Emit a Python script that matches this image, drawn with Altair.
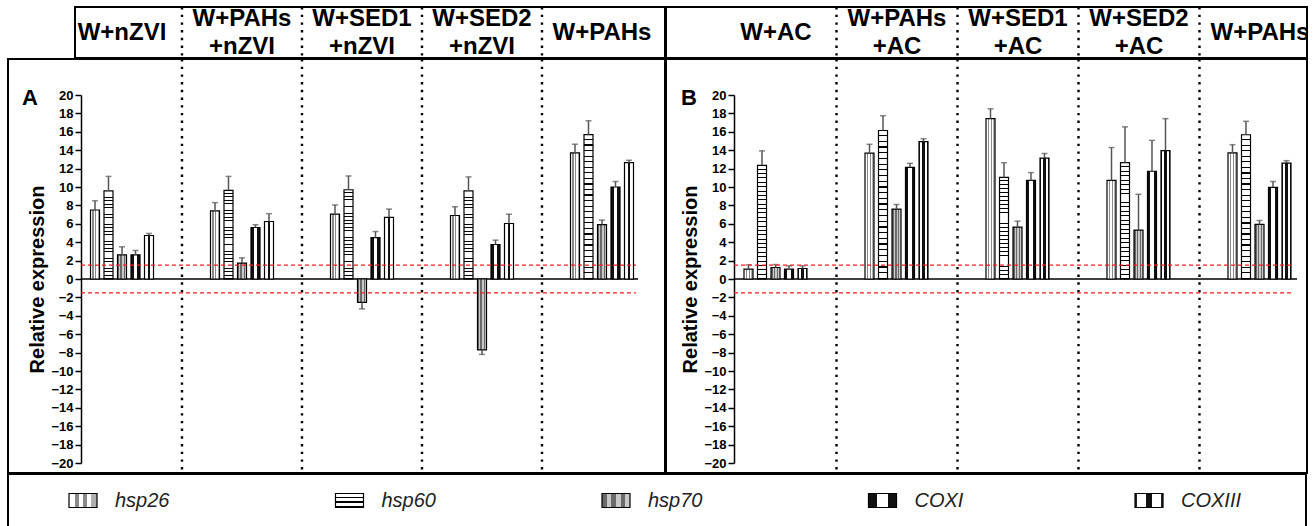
import altair as alt
import pandas as pd

# ---------------- data ----------------
GENES = ["hsp26", "hsp60", "hsp70", "COXI", "COXIII"]
GROUPS_A = ["W+nZVI", "W+PAHs +nZVI", "W+SED1 +nZVI", "W+SED2 +nZVI", "W+PAHs"]
GROUPS_B = ["W+AC", "W+PAHs +AC", "W+SED1 +AC", "W+SED2 +AC", "W+PAHs"]

A_HSP26 = [7.5, 7.4, 7.05, 6.9, 13.7]
A_HSP26_ERR = [8.5, 8.3, 8.05, 7.85, 14.65]
A_HSP60 = [9.57, 9.64, 9.7, 9.57, 15.7]
A_HSP60_ERR = [11.15, 11.15, 11.2, 11.1, 17.2]
A_HSP70 = [2.63, 1.73, -2.53, -7.7, 5.92]
A_HSP70_ERR = [3.5, 2.3, -3.25, -8.2, 6.4]
A_COXI = [2.63, 5.6, 4.5, 3.75, 10.0]
A_COXI_ERR = [3.1, 5.9, 5.16, 4.22, 10.6]
A_COXIII = [4.73, 6.25, 6.7, 6.03, 12.64]
A_COXIII_ERR = [4.95, 7.1, 7.6, 7.04, 12.9]

B_HSP26 = [1.07, 13.68, 17.43, 10.71, 13.71]
B_HSP26_ERR = [1.54, 14.64, 18.5, 14.29, 14.6]
B_HSP60 = [12.36, 16.14, 11.04, 12.64, 15.68]
B_HSP60_ERR = [13.93, 17.75, 12.64, 16.54, 17.14]
B_HSP70 = [1.25, 7.6, 5.64, 5.32, 5.93]
B_HSP70_ERR = [1.57, 8.1, 6.29, 9.21, 6.36]
B_COXI = [1.07, 12.14, 10.71, 11.71, 9.96]
B_COXI_ERR = [1.43, 12.57, 11.57, 15.07, 10.6]
B_COXIII = [1.14, 14.93, 13.14, 13.96, 12.6]
B_COXIII_ERR = [1.43, 15.25, 13.64, 17.43, 12.86]

Y_TICKS = list(range(-20, 21, 2))
THRESHOLDS = [1.5, -1.5]

A_SERIES = [(A_HSP26, A_HSP26_ERR), (A_HSP60, A_HSP60_ERR), (A_HSP70, A_HSP70_ERR),
            (A_COXI, A_COXI_ERR), (A_COXIII, A_COXIII_ERR)]
B_SERIES = [(B_HSP26, B_HSP26_ERR), (B_HSP60, B_HSP60_ERR), (B_HSP70, B_HSP70_ERR),
            (B_COXI, B_COXI_ERR), (B_COXIII, B_COXIII_ERR)]


def build_df(groups, series):
    rows = []
    for gene, (vals, errs) in zip(GENES, series):
        for g, v, e in zip(groups, vals, errs):
            rows.append({"group": g, "gene": gene, "value": v, "err": e})
    return pd.DataFrame(rows)


# ---------------- styles (texture-like fills) ----------------
def stripes(bands, horizontal=True):
    stops = []
    start = 0.0
    for end, color in bands:
        stops.append({"offset": start, "color": color})
        stops.append({"offset": end, "color": color})
        start = end
    g = {"gradient": "linear", "stops": stops}
    if horizontal:
        g.update(x1=0, x2=1, y1=0, y2=0)
    else:
        g.update(x1=0, x2=0, y1=0, y2=1)
    return g


def lines(n, line_frac=0.22, bg="white", fg="black"):
    bands = []
    for i in range(n):
        bands.append(((i + 1 - line_frac) / n, bg))
        bands.append(((i + 1) / n, fg))
    return stripes(bands, horizontal=False)


FILLS = {
    "hsp26": stripes([(0.2, "white"), (0.35, "#8a8a8a"), (0.5, "white"), (0.65, "#8a8a8a"),
                      (0.8, "white"), (1.0, "#b0b0b0")]),
    "hsp60": lines(26),
    "hsp70": stripes([(0.17, "#6a6a6a"), (0.33, "#c8c8c8"), (0.5, "#6a6a6a"), (0.67, "#c8c8c8"),
                      (0.83, "#6a6a6a"), (1.0, "#c8c8c8")]),
    "COXI": stripes([(0.3, "#111111"), (0.7, "white"), (1.0, "#111111")]),
    "COXIII": stripes([(0.08, "#222222"), (0.38, "white"), (0.62, "#111111"), (0.92, "white"),
                       (1.0, "#222222")]),
}
LEGEND_FILLS = dict(FILLS)
LEGEND_FILLS["hsp60"] = lines(3, line_frac=0.3)

FONT = "Liberation Sans"
DOTS = dict(color="black", strokeWidth=2.4, strokeDash=[2.4, 5.3], clip=True)


def panel(groups, series, x_range, off_range, axis_offset, band_start, band_end, band_red,
          letter, letter_dx, width):
    df = build_df(groups, series)
    xscale = alt.Scale(domain=groups, range=x_range, paddingInner=0, paddingOuter=0)
    x_enc = alt.X("group:N", scale=xscale, axis=None)
    xoff = alt.XOffset("gene:N", scale=alt.Scale(domain=GENES, range=off_range,
                                                 paddingInner=0.333, paddingOuter=0))
    yscale = alt.Scale(domain=[-20, 20], range=[404, 36], nice=False, zero=False)
    yaxis = alt.Axis(values=Y_TICKS, offset=axis_offset, title="Relative expression",
                     titleFontSize=20, titleFontWeight="bold", titleColor="black", titlePadding=3,
                     labelFontSize=13, labelFontWeight="bold", labelColor="black", labelPadding=2,
                     tickSize=6, tickWidth=1.5, tickColor="black", domainColor="black",
                     domainWidth=1.5, grid=False, format="d", labelFont=FONT, titleFont=FONT)

    def yq(field):
        return alt.Y(f"{field}:Q", scale=yscale, axis=yaxis)

    sep_df = pd.DataFrame({"group": groups[1:]})
    seps = alt.Chart(sep_df).mark_rule(**DOTS).encode(
        x=alt.X("group:N", scale=xscale, axis=None, bandPosition=0)
    )

    zero_df = pd.DataFrame({"y": [0], "g0": [groups[0]], "g1": [groups[-1]]})
    zero = alt.Chart(zero_df).mark_rule(color="black", strokeWidth=1.6, clip=True).encode(
        x=alt.X("g0:N", scale=xscale, axis=None, bandPosition=band_start),
        x2=alt.X2("g1", bandPosition=band_end),
        y=yq("y"),
    )

    red_df = pd.DataFrame({"y": THRESHOLDS, "g0": [groups[0]] * 2, "g1": [groups[-1]] * 2})
    red = alt.Chart(red_df).mark_rule(color="#ff1a1a", strokeWidth=1.3, strokeDash=[4, 3],
                                      clip=True).encode(
        x=alt.X("g0:N", scale=xscale, axis=None, bandPosition=band_start),
        x2=alt.X2("g1", bandPosition=band_red),
        y=yq("y"),
    )

    bars = []
    for gene in GENES:
        bars.append(
            alt.Chart(df).transform_filter(alt.datum.gene == gene)
            .mark_bar(fill=FILLS[gene], stroke="black", strokeWidth=1.2)
            .encode(x=x_enc, xOffset=xoff, y=yq("value"), y2=alt.datum(0))
        )

    err = alt.Chart(df).mark_rule(color="#555555", strokeWidth=1.5).encode(
        x=x_enc, xOffset=xoff, y=yq("value"), y2="err:Q"
    )
    caps = alt.Chart(df).mark_tick(orient="horizontal", size=6, thickness=1.5, color="#555555").encode(
        x=x_enc, xOffset=xoff, y=yq("err")
    )

    return alt.layer(seps, zero, *bars, err, caps, red).properties(
        width=width, height=414,
        title=alt.TitleParams(letter, anchor="start", frame="group", dx=letter_dx, offset=-51,
                              fontSize=22, fontWeight="bold", color="black", font=FONT),
        view=alt.ViewBackground(stroke="black", strokeWidth=2),
    )


def header(groups, x_range, width):
    xscale = alt.Scale(domain=groups, range=x_range, paddingInner=0, paddingOuter=0)
    x_lab = alt.X("group:N", scale=xscale, axis=None)
    sep_df = pd.DataFrame({"group": groups[1:]})
    seps = alt.Chart(sep_df).mark_rule(**DOTS).encode(
        x=alt.X("group:N", scale=xscale, axis=None, bandPosition=0)
    )
    lab_df = pd.DataFrame({"group": groups})
    base = alt.Chart(lab_df).transform_calculate(
        n="length(split(datum.group, ' '))",
        first="split(datum.group, ' ')[0]",
        second="length(split(datum.group, ' ')) > 1 ? split(datum.group, ' ')[1] : ''",
    )
    style = dict(fontSize=24, fontWeight="bold", color="black", font=FONT, baseline="middle",
                 align="center", clip=True)
    single = base.transform_filter("datum.n == 1").mark_text(**style).encode(x=x_lab, text="first:N")
    top = base.transform_filter("datum.n > 1").mark_text(dy=-13.5, **style).encode(x=x_lab, text="first:N")
    bottom = base.transform_filter("datum.n > 1").mark_text(dy=14, **style).encode(x=x_lab, text="second:N")
    return alt.layer(seps, single, top, bottom).properties(
        width=width, height=51, view=alt.ViewBackground(stroke="black", strokeWidth=2)
    )


SHAPE = "M-1,-0.5H1V0.5H-1Z"


def legend():
    ldf = pd.DataFrame({"gene": GENES})
    lx = alt.X("gene:N", scale=alt.Scale(domain=GENES, type="point", range=[75, 1141], padding=0),
               axis=None)
    layers = []
    for gene in GENES:
        layers.append(
            alt.Chart(ldf).transform_filter(alt.datum.gene == gene)
            .mark_point(shape=SHAPE, size=784, filled=True, fill=LEGEND_FILLS[gene], opacity=1,
                        stroke="black", strokeWidth=1.2)
            .encode(x=lx)
        )
    text = alt.Chart(ldf).mark_text(align="left", baseline="middle", dx=32, fontSize=20,
                                    fontStyle="italic", color="#222222", font=FONT).encode(
        x=lx, text="gene:N"
    )
    return alt.layer(*layers, text).properties(
        width=1298, height=53, view=alt.ViewBackground(stroke="black", strokeWidth=2)
    )


spacer = alt.Chart(pd.DataFrame({"gene": ["-"]})).mark_point(opacity=0).properties(width=67, height=51)

header_row = alt.hconcat(
    spacer,
    header(GROUPS_A, [-13, 587], 590),
    header(GROUPS_B, [49.5, 654.5], 641),
    spacing=-2,
)
panel_row = alt.hconcat(
    panel(GROUPS_A, A_SERIES, [54, 654], [28.5, 91.5], -73, 0.158, 0.8, 0.783, "A", 14, 657),
    panel(GROUPS_B, B_SERIES, [49.5, 654.5], [29, 92], -68, 0.153, 0.806, 0.78, "B", 15, 641),
    spacing=-2,
)

chart = alt.vconcat(header_row, panel_row, legend(), spacing=-2).properties(
    padding={"left": 7, "top": 6, "right": 0, "bottom": 0}
).configure_view(strokeWidth=0).configure(font=FONT, background="white")

chart.save("out.html", embed_options={"renderer": "svg", "actions": False})
